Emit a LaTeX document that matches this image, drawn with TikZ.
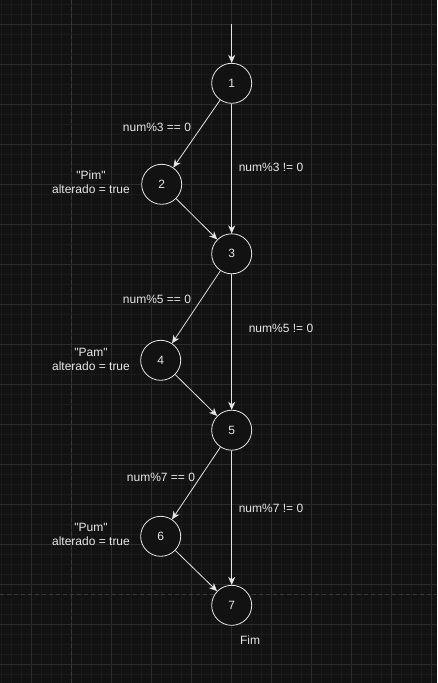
\documentclass[tikz,border=0pt]{standalone}
\usepackage{fontspec}
\setmainfont{Liberation Sans}
\usetikzlibrary{arrows.meta}
\definecolor{bgc}{HTML}{121212}
\definecolor{minorc}{HTML}{1B1B1B}
\definecolor{majorc}{HTML}{2C2C2C}
\definecolor{dashc}{HTML}{3A3A3A}
\definecolor{fg}{HTML}{E6E6E6}
\begin{document}
\begin{tikzpicture}[x=1pt,y=-1pt,
  state/.style={circle,draw=fg,fill=bgc,line width=0.8pt,minimum size=40pt,inner sep=0pt,text=fg,font=\fontsize{12}{14}\selectfont},
  lbl/.style={text=fg,font=\fontsize{12}{14}\selectfont,inner sep=0pt,align=center},
  edge/.style={draw=fg,line width=0.8pt,-{Stealth[length=8pt,width=7pt,inset=2.5pt]}}]
\useasboundingbox[fill=bgc] (0,0) rectangle (437,683);
% minor grid
\foreach \i in {0,...,43} {\draw[minorc,line width=0.6pt] (1.7+10*\i,0) -- (1.7+10*\i,683);}
\foreach \j in {0,...,68} {\draw[minorc,line width=0.6pt] (0,4.3+10*\j) -- (437,4.3+10*\j);}
% major grid
\foreach \i in {0,...,10} {\draw[majorc,line width=0.8pt] (31.7+40*\i,0) -- (31.7+40*\i,683);}
\foreach \j in {0,...,16} {\draw[majorc,line width=0.8pt] (0,24.3+40*\j) -- (437,24.3+40*\j);}
% dashed guides
\draw[dashc,line width=0.8pt,dash pattern=on 4pt off 3pt] (71.7,0) -- (71.7,683);
\draw[dashc,line width=0.8pt,dash pattern=on 4pt off 3pt] (0,594) -- (437,594);

\coordinate (start) at (231.7,24.3);
\node[state] (n1) at (231.7,83.3) {1};
\node[state] (n2) at (161.7,184.3) {2};
\node[state] (n3) at (231.7,253.8) {3};
\node[state] (n4) at (160.7,360.3) {4};
\node[state] (n5) at (231.7,430.2) {5};
\node[state] (n6) at (160.7,536.3) {6};
\node[state] (n7) at (231.7,605.3) {7};

\draw[edge] (start) -- (n1);
\draw[edge] (n1) -- (n2);
\draw[edge] (n1) -- (n3);
\draw[edge] (n2) -- (n3);
\draw[edge] (n3) -- (n4);
\draw[edge] (n3) -- (n5);
\draw[edge] (n4) -- (n5);
\draw[edge] (n5) -- (n6);
\draw[edge] (n5) -- (n7);
\draw[edge] (n6) -- (n7);

\node[lbl] (l13a) at (157,127.7) {num\%3 == 0};
\node[lbl] (l13b) at (271,167.7) {num\%3 != 0};
\node[lbl] (t2) at (91,182.2) {\textquotedbl Pim\textquotedbl\\alterado = true};
\node[lbl] (l35a) at (157,299) {num\%5 == 0};
\node[lbl] (l35b) at (281,328.7) {num\%5 != 0};
\node[lbl] (t4) at (91,359) {\textquotedbl Pam\textquotedbl\\alterado = true};
\node[lbl] (l57a) at (161,477.7) {num\%7 == 0};
\node[lbl] (l57b) at (271,508.3) {num\%7 != 0};
\node[lbl] (t6) at (91,534.7) {\textquotedbl Pum\textquotedbl\\alterado = true};
\node[lbl] (fim) at (250,640) {Fim};
\end{tikzpicture}
\end{document}
